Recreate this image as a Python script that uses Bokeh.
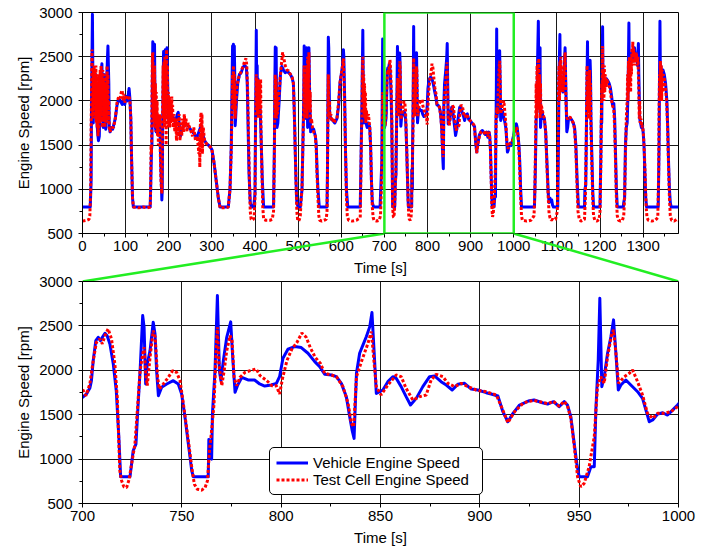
from bokeh.plotting import figure
from bokeh.models import Range1d, SingleIntervalTicker, Legend, LegendItem, BoxAnnotation
from bokeh.layouts import column
from bokeh.embed import file_html
from bokeh.resources import INLINE

FONT = "Liberation Sans"

# ---------------- data (time [s], engine speed [rpm]) ----------------
vehicle_before = [
    (0, 800), (18, 800), (20, 1100), (21, 2000), (23, 2980), (24, 2300), (25, 1750), (27, 2200), (29, 2100), (31, 2300),
    (33, 1800), (35, 1650), (37, 1550), (39, 1600), (41, 2100), (43, 2300), (45, 2420), (47, 1800), (48, 1700), (50, 2300),
    (52, 1750), (54, 1680), (56, 2200), (58, 2500), (59, 2620), (61, 2200), (62, 1700), (64, 1650), (66, 1700), (70, 1680),
    (72, 1720), (76, 1800), (80, 1950), (84, 2020), (88, 2000), (92, 1960), (95, 2000), (98, 1960), (101, 2050), (104, 2000),
    (107, 2100), (108, 2140), (110, 2020), (112, 1800), (114, 1300), (116, 900), (118, 800), (157, 800), (158, 1000), (160, 1450),
    (161, 1500), (162, 2200), (163, 2670), (164, 2300), (165, 1800), (166, 2400), (167, 2640), (168, 2100), (169, 1700), (171, 1650),
    (173, 1800), (175, 1700), (178, 1750), (180, 1600), (182, 1200), (184, 880), (185, 1000), (186, 1800), (188, 2560), (190, 2000),
    (192, 2580), (194, 2000), (196, 2600), (197, 2300), (199, 1800), (202, 1780), (205, 1800), (210, 1820), (215, 1760), (220, 1850),
    (222, 1870), (225, 1700), (227, 1600), (230, 1650), (235, 1730), (240, 1740), (245, 1720), (250, 1680), (255, 1650), (260, 1620),
    (265, 1580), (270, 1650), (275, 1720), (278, 1650), (282, 1560), (287, 1520), (292, 1500), (296, 1480), (300, 1450), (305, 1300),
    (310, 1100), (315, 900), (319, 800), (338, 800), (342, 1000), (345, 1500), (347, 2300), (348, 2620), (349, 2000), (350, 2640),
    (351, 2100), (352, 2620), (353, 2300), (354, 1720), (355, 1800), (357, 2000), (360, 2200), (364, 2300), (368, 2320), (372, 2380),
    (376, 2400), (380, 2380), (382, 2200), (384, 1700), (386, 1200), (389, 850), (392, 800), (397, 800), (400, 950), (401, 1600),
    (402, 2200), (403, 2800), (404, 2000), (405, 2400), (406, 1850), (407, 2250), (408, 1900), (410, 1950), (412, 1900), (414, 1600),
    (417, 1100), (420, 800), (443, 800), (445, 1500), (446, 2200), (447, 2610), (448, 2300), (449, 2600), (450, 2000), (451, 1700),
    (453, 1750), (456, 2000), (459, 2300), (462, 2390), (466, 2350), (470, 2320), (474, 2330), (478, 2320), (482, 2300), (486, 2260),
    (489, 2200), (491, 1900), (493, 1500), (495, 1100), (497, 850), (500, 800), (505, 800), (507, 900), (509, 1000), (511, 1500),
    (513, 2000), (514, 2620), (516, 2200), (518, 1800), (520, 2600), (522, 1700), (524, 2300), (525, 2600), (527, 2000), (529, 1650),
    (532, 1700), (536, 1680), (540, 1600), (542, 1500), (544, 1200), (546, 1000), (549, 800), (567, 800), (568, 1200), (569, 2000),
    (570, 2720), (571, 2600), (572, 2200), (573, 1850), (576, 1800), (580, 1780), (585, 1750), (590, 1800), (594, 1950), (597, 2200),
    (600, 2300), (603, 2400), (605, 2580), (606, 2500), (608, 2000), (610, 1400), (612, 1000), (615, 800), (644, 800), (646, 1400),
    (648, 2000), (650, 2800), (651, 2200), (652, 1750), (654, 1900), (656, 1780), (660, 1700), (663, 1750), (666, 1700), (668, 1500),
    (670, 1100), (672, 850), (675, 800), (690, 800), (692, 1050), (694, 1300), (695, 2000), (696, 2700), (697, 2100), (698, 1800),
]
vehicle_zoom = [
    (700, 1695), (702, 1733), (703.7, 1800), (704.5, 1883), (705.4, 2109), (706.7, 2334), (707.9, 2372), (709, 2334), (710, 2372), (711.3, 2417),
    (712.4, 2390), (713.8, 2297), (715.5, 2071), (717, 1770), (718.3, 1244), (719.2, 800), (723.9, 800), (724.7, 943), (725.5, 1094), (726.9, 1169),
    (728, 1620), (729, 1996), (730.3, 2616), (731, 2485), (731.8, 1846), (732.6, 2071), (734, 2222), (735.6, 2541), (736.5, 2410), (737.3, 1996),
    (738.2, 1714), (739.8, 1808), (742.4, 1846), (745.7, 1883), (748.2, 1846), (749.9, 1733), (751.6, 1470), (753.3, 1169), (755, 868), (755.8, 800),
    (763.3, 800), (763.6, 1220), (764.2, 1050), (765, 1000), (765.4, 1507), (766.7, 1996), (767.9, 2842), (768.9, 1996), (769.7, 1883), (770.9, 2109),
    (772.6, 2372), (774.6, 2545), (775.6, 2147), (776.8, 1752), (778, 1827), (780.2, 1921), (783.3, 1891), (786.6, 1891), (789.2, 1846), (791.7, 1823),
    (795, 1834), (797.6, 1853), (799.2, 1928), (800.9, 2135), (803.4, 2237), (806.8, 2267), (810.1, 2256), (813.5, 2192), (816.9, 2098), (819.4, 2041),
    (821.9, 1955), (825.3, 1947), (827.8, 1928), (830.3, 1853), (832.8, 1703), (834.5, 1477), (835.7, 1327), (836.7, 1233), (837.9, 1966), (839.5, 2192),
    (841.2, 2286), (842.9, 2380), (844.6, 2492), (845.7, 2650), (847.1, 2079), (847.9, 1740), (851.2, 1778), (853.7, 1872), (856.2, 1928), (857.9, 1910),
    (860.4, 1816), (862.9, 1703), (865.1, 1609), (868, 1684), (871.3, 1816), (874.7, 1928), (877.2, 1936), (880.5, 1872), (883.1, 1834), (886.1, 1778),
    (888.9, 1842), (892.3, 1853), (895.7, 1789), (899, 1778), (903.2, 1748), (905.7, 1733), (909.1, 1710), (911.6, 1534), (914.1, 1421), (916.7, 1515),
    (920, 1609), (924.4, 1654), (927.3, 1665), (931.5, 1635), (934.1, 1620), (937.1, 1647), (939.9, 1590), (942.5, 1647), (944.1, 1609), (945.8, 1477),
    (947.5, 1176), (948.8, 951), (950, 800), (954.2, 800), (955.9, 913), (957.6, 913), (958.4, 1552), (959.6, 2116), (960.4, 2812), (961.4, 1816),
    (962.6, 1928), (964.3, 2192), (966, 2380), (967.3, 2568), (968.5, 2192), (969.7, 1778), (971, 1834), (973.5, 1891), (976, 1834), (979.4, 1759),
    (981.9, 1684), (983.6, 1552), (985.3, 1421), (987, 1440), (989.5, 1507), (992, 1522), (994.5, 1496), (997, 1552), (999.5, 1609),
]
vehicle_after = [
    (1003, 1700), (1006, 1740), (1008, 1700), (1010, 1600), (1012, 1500), (1014, 1300), (1016, 1000), (1018, 800), (1048, 800), (1050, 1200),
    (1052, 1800), (1054, 1900), (1055, 2400), (1057, 2900), (1058, 2300), (1059, 2000), (1060, 2200), (1061, 2600), (1062, 1700), (1064, 1850),
    (1066, 1880), (1068, 1800), (1071, 1800), (1074, 1650), (1077, 1300), (1080, 950), (1082, 850), (1084, 900), (1086, 860), (1088, 880),
    (1090, 820), (1092, 800), (1102, 800), (1104, 1700), (1105, 2300), (1107, 2750), (1108, 2200), (1110, 2150), (1112, 2200), (1114, 2100),
    (1116, 2250), (1118, 2500), (1119, 2600), (1121, 2100), (1123, 1650), (1125, 1700), (1127, 1800), (1131, 1810), (1135, 1780), (1138, 1750),
    (1141, 1700), (1144, 1500), (1147, 1100), (1150, 800), (1164, 800), (1165, 1000), (1167, 1050), (1169, 1900), (1171, 2670), (1172, 2000),
    (1173, 2300), (1175, 1900), (1177, 2460), (1178, 2300), (1179, 1800), (1181, 1400), (1183, 1000), (1185, 800), (1200, 800), (1202, 1400),
    (1203, 1800), (1204, 1750), (1205, 2300), (1206, 2840), (1207, 2200), (1209, 2250), (1212, 2200), (1215, 2250), (1218, 2230), (1221, 2200),
    (1224, 2150), (1227, 2050), (1229, 1950), (1232, 1970), (1234, 1800), (1236, 1400), (1238, 1000), (1240, 800), (1254, 800), (1255, 850),
    (1257, 900), (1259, 1500), (1261, 1700), (1263, 1750), (1265, 2100), (1267, 2880), (1268, 2300), (1270, 2450), (1272, 2500), (1275, 2550),
    (1277, 2450), (1280, 2600), (1282, 2500), (1285, 2520), (1287, 2400), (1289, 2650), (1290, 2300), (1292, 1800), (1294, 1750), (1296, 1700),
    (1298, 1720), (1300, 1650), (1302, 1500), (1304, 1200), (1306, 900), (1308, 800), (1335, 800), (1337, 1500), (1338, 2300), (1339, 2900),
    (1340, 2300), (1341, 2400), (1343, 2200), (1346, 2350), (1349, 2300), (1352, 2200), (1355, 2000), (1357, 1700), (1359, 1300), (1361, 1000),
    (1363, 850), (1365, 800), (1382, 800),
]

cell_before = [
    (0, 640), (10, 650), (15, 660), (17, 700), (19, 1000), (20, 1700), (22, 2580), (23, 2200), (24, 1800), (25, 2350),
    (26, 1900), (27, 2400), (28, 1800), (29, 2350), (30, 2000), (31, 2400), (32, 1750), (33, 2200), (34, 1700), (35, 2300),
    (36, 1600), (37, 2100), (38, 1650), (39, 2300), (40, 1750), (41, 2350), (42, 1850), (43, 2400), (44, 1800), (45, 2300),
    (46, 1700), (47, 2350), (48, 1700), (49, 2250), (50, 1800), (51, 2300), (52, 1700), (53, 2200), (54, 1750), (55, 2300),
    (56, 1800), (57, 2400), (58, 1900), (59, 2300), (60, 1750), (61, 2000), (62, 1700), (64, 1650), (67, 1700), (72, 1700),
    (76, 1800), (80, 1980), (84, 2050), (87, 2030), (90, 2100), (92, 2120), (94, 2000), (96, 2080), (98, 1980), (100, 2050),
    (103, 2020), (106, 2060), (108, 2050), (110, 2000), (112, 1800), (114, 1300), (116, 900), (118, 800), (130, 790), (140, 800),
    (150, 790), (157, 800), (158, 1000), (159, 1500), (160, 1400), (161, 2000), (162, 2500), (163, 2550), (164, 1800), (165, 2300),
    (166, 1700), (167, 2400), (168, 1750), (169, 2200), (170, 1650), (171, 2100), (172, 1700), (173, 2000), (174, 1600), (175, 1850),
    (176, 1500), (177, 1800), (178, 1700), (179, 1850), (180, 1500), (182, 1100), (184, 950), (185, 1400), (186, 2000), (187, 2400),
    (188, 1800), (189, 2450), (190, 1700), (191, 2500), (192, 1800), (193, 2450), (194, 1500), (195, 2580), (196, 1900), (197, 2400),
    (198, 1700), (199, 2100), (200, 1800), (201, 2050), (202, 1700), (203, 1950), (204, 1750), (205, 2000), (206, 1800), (207, 2050),
    (208, 1750), (209, 1950), (210, 1700), (212, 1850), (214, 1650), (216, 1800), (218, 1550), (220, 1800), (222, 1600), (224, 1850),
    (226, 1550), (228, 1750), (230, 1600), (232, 1800), (234, 1650), (236, 1850), (238, 1700), (240, 1800), (242, 1650), (245, 1750),
    (248, 1700), (252, 1650), (255, 1600), (258, 1700), (262, 1550), (266, 1600), (268, 1500), (270, 1400), (271, 1600), (272, 1250),
    (273, 1700), (274, 1800), (275, 1870), (276, 1500), (277, 1850), (278, 1400), (280, 1700), (283, 1550), (287, 1520), (292, 1500),
    (296, 1480), (300, 1450), (305, 1300), (310, 1100), (315, 900), (319, 790), (330, 790), (338, 800), (342, 1000), (345, 1450),
    (347, 2000), (348, 2300), (349, 1900), (350, 2400), (351, 2000), (352, 2300), (353, 2100), (354, 1800), (356, 2000), (358, 2150),
    (361, 2250), (365, 2300), (369, 2350), (373, 2400), (376, 2450), (379, 2480), (381, 2400), (383, 2100), (385, 1600), (387, 1100),
    (389, 750), (391, 660), (393, 650), (396, 660), (398, 680), (400, 900), (401, 1500), (402, 2000), (403, 2300), (404, 1900),
    (405, 2250), (406, 1850), (407, 2200), (408, 1800), (409, 2250), (410, 1950), (411, 2200), (412, 1850), (413, 2250), (414, 1650),
    (416, 1200), (418, 800), (420, 660), (425, 650), (435, 650), (440, 660), (443, 750), (445, 1400), (446, 2000), (447, 2300),
    (448, 1800), (449, 2250), (450, 1800), (451, 2100), (452, 1850), (454, 1950), (456, 2100), (459, 2300), (462, 2450), (464, 2550),
    (466, 2500), (468, 2450), (470, 2400), (474, 2350), (478, 2340), (482, 2300), (486, 2270), (489, 2200), (491, 1900), (493, 1500),
    (495, 1100), (497, 750), (499, 650), (501, 640), (503, 660), (505, 700), (507, 880), (509, 1000), (511, 1500), (513, 1900),
    (514, 2400), (515, 1800), (516, 2200), (517, 1800), (518, 2300), (519, 1850), (520, 2400), (521, 1800), (522, 2500), (523, 1900),
    (524, 2400), (525, 2550), (526, 2200), (527, 1900), (528, 2100), (529, 1750), (531, 1800), (533, 1700), (536, 1650), (540, 1600),
    (542, 1450), (544, 1150), (546, 900), (548, 700), (550, 650), (555, 640), (560, 650), (565, 660), (567, 750), (568, 1100),
    (569, 1800), (570, 2300), (571, 1900), (572, 1800), (573, 2000), (574, 1800), (576, 1850), (578, 1780), (580, 1800), (583, 1750),
    (586, 1780), (590, 1800), (594, 2000), (597, 2200), (600, 2300), (603, 2400), (605, 2480), (606, 2300), (608, 1900), (610, 1400),
    (612, 900), (614, 700), (617, 650), (625, 640), (635, 650), (644, 680), (646, 1300), (648, 1900), (649, 2300), (650, 2500),
    (651, 2000), (652, 2300), (653, 1850), (654, 2200), (655, 1800), (656, 2100), (657, 1750), (658, 1900), (660, 1800), (663, 1850),
    (666, 1700), (668, 1500), (670, 1100), (672, 800), (674, 680), (676, 650), (682, 640), (688, 650), (691, 700), (693, 1000),
    (695, 1500), (696, 2100), (697, 1900), (698, 1800), (699, 1750),
]
cell_zoom = [
    (700, 1789), (701.7, 1714), (703.7, 1846), (705.4, 2109), (707, 2316), (708.7, 2353), (710, 2297), (711.3, 2390), (712.9, 2466), (714.6, 2353),
    (716.3, 2071), (717.5, 1695), (718.8, 868), (719.7, 755), (720.8, 688), (722.2, 680), (723.5, 774), (724.7, 943), (726.4, 1169), (727.6, 1545),
    (729, 1996), (730.3, 2184), (731.1, 2259), (731.8, 1958), (732.6, 1827), (734, 2147), (735.6, 2447), (736.6, 2372), (737.8, 1921), (738.7, 1789),
    (740.7, 1846), (743.2, 1921), (745.4, 1996), (747.4, 1977), (749.1, 1883), (750.8, 1620), (753.3, 1206), (755, 906), (756.3, 718), (757.8, 661),
    (760, 650), (761.7, 680), (762.9, 755), (763.9, 1094), (765, 1319), (766.2, 1620), (767.2, 2184), (767.9, 2485), (768.7, 2071), (770.1, 1827),
    (771.3, 1996), (772.6, 2222), (774.3, 2390), (775.3, 2334), (776.3, 1921), (777.6, 1827), (779.3, 1921), (781.8, 1977), (784.4, 1996), (787.4, 2015),
    (789.4, 1940), (792.8, 1883), (795.3, 1827), (797.5, 1827), (799.2, 1733), (800.8, 1921), (802.9, 2109), (805.4, 2240), (808, 2316), (810.4, 2420),
    (812.6, 2372), (814.6, 2259), (817.1, 2147), (819.7, 2080), (821.9, 1966), (825.3, 1947), (827.8, 1928), (831.1, 1816), (833.7, 1628), (835.3, 1402),
    (836.5, 1364), (837.9, 1928), (840.4, 2098), (843.7, 2304), (845.4, 2436), (846.8, 2079), (847.9, 1816), (850.3, 1722), (853.7, 1834), (857.9, 1947),
    (860.4, 1928), (862.9, 1797), (866.3, 1665), (869.6, 1703), (873, 1722), (875.5, 1891), (878, 1955), (881.4, 1928), (883.9, 1853), (887.3, 1816),
    (890.6, 1853), (894, 1816), (898.2, 1778), (903.2, 1759), (908.3, 1722), (911.6, 1552), (914.1, 1410), (917.5, 1534), (921.7, 1628), (924.4, 1650),
    (927.3, 1660), (931.5, 1640), (934.1, 1625), (937.1, 1650), (939.9, 1595), (942.5, 1650), (944.1, 1600), (945.8, 1460), (947.5, 1150), (949.2, 800),
    (950.8, 688), (952.5, 726), (955, 913), (957.6, 1251), (959.2, 1816), (960.9, 1928), (962.6, 1853), (964.3, 2154), (966.3, 2398), (967.3, 2455),
    (968.5, 2192), (969.8, 1853), (972.7, 1928), (975.2, 1966), (976.9, 2004), (979.4, 1872), (981.9, 1722), (984.4, 1515), (987, 1458), (989.5, 1515),
    (992.8, 1515), (996.2, 1534), (999.5, 1590),
]
cell_after = [
    (1003, 1650), (1006, 1700), (1008, 1680), (1010, 1600), (1012, 1450), (1014, 1200), (1016, 900), (1018, 700), (1020, 650), (1030, 640),
    (1040, 650), (1047, 700), (1049, 1000), (1051, 1700), (1052, 2200), (1053, 1800), (1054, 2400), (1055, 1900), (1056, 2450), (1057, 2000),
    (1058, 2480), (1059, 1900), (1060, 2300), (1061, 1800), (1062, 2200), (1063, 1850), (1064, 1950), (1066, 1900), (1068, 1850), (1071, 1800),
    (1074, 1650), (1077, 1250), (1080, 900), (1082, 720), (1084, 680), (1087, 650), (1090, 660), (1093, 650), (1097, 660), (1101, 750),
    (1103, 1600), (1104, 2200), (1105, 2400), (1106, 2000), (1107, 2450), (1108, 2100), (1109, 2500), (1110, 2150), (1112, 2400), (1114, 2100),
    (1116, 2300), (1118, 2450), (1119, 2550), (1121, 2000), (1123, 1800), (1126, 1800), (1130, 1820), (1135, 1780), (1138, 1750), (1141, 1680),
    (1144, 1450), (1147, 1000), (1149, 750), (1152, 660), (1156, 640), (1160, 650), (1164, 660), (1166, 900), (1168, 1500), (1169, 2000),
    (1170, 2400), (1171, 1900), (1172, 2300), (1173, 1800), (1174, 2200), (1175, 1800), (1176, 2350), (1177, 2000), (1178, 2200), (1179, 1700),
    (1181, 1300), (1183, 900), (1185, 700), (1188, 650), (1193, 640), (1198, 660), (1200, 750), (1202, 1300), (1203, 1800), (1204, 2200),
    (1205, 2000), (1206, 2620), (1207, 2100), (1208, 2350), (1209, 2000), (1210, 2400), (1211, 2100), (1212, 2300), (1214, 2150), (1216, 2250),
    (1218, 2200), (1221, 2180), (1224, 2100), (1227, 2000), (1229, 1950), (1232, 1900), (1234, 1700), (1236, 1300), (1238, 900), (1240, 700),
    (1243, 650), (1248, 640), (1252, 650), (1255, 700), (1257, 900), (1259, 1400), (1261, 1800), (1263, 2000), (1264, 2300), (1265, 2000),
    (1266, 2450), (1267, 2100), (1268, 2500), (1269, 2200), (1270, 2400), (1271, 2100), (1272, 2500), (1273, 2300), (1274, 2600), (1275, 2400),
    (1276, 2670), (1277, 2500), (1278, 2600), (1279, 2400), (1280, 2550), (1282, 2450), (1284, 2550), (1286, 2400), (1288, 2500), (1289, 2300),
    (1290, 2100), (1291, 1800), (1292, 2000), (1293, 1750), (1295, 1800), (1297, 1700), (1299, 1720), (1301, 1600), (1303, 1400), (1305, 1100),
    (1307, 800), (1309, 680), (1312, 650), (1320, 640), (1328, 650), (1334, 680), (1336, 1200), (1337, 1900), (1338, 2300), (1339, 2000),
    (1340, 2450), (1341, 2100), (1342, 2400), (1343, 2000), (1344, 2350), (1345, 2100), (1347, 2300), (1349, 2250), (1352, 2150), (1355, 1950),
    (1357, 1650), (1359, 1250), (1361, 900), (1363, 700), (1366, 650), (1372, 640), (1378, 660), (1382, 650),
]

series_labels = ["Vehicle Engine Speed", "Test Cell Engine Speed"]
full_time_range = (0, 1382)
zoom_time_range = (700, 1000)
speed_range = (500, 3000)
x_label = "Time [s]"
y_label = "Engine Speed [rpm]"

vehicle = vehicle_before + vehicle_zoom + vehicle_after
cell = cell_before + cell_zoom + cell_after
veh_t = [a for a, b in vehicle]
veh_rpm = [b for a, b in vehicle]
cell_t = [a for a, b in cell]
cell_rpm = [b for a, b in cell]

BLUE = "#0000ff"
RED = "#ff0000"
GREEN = "#22ee22"


def make_fig(xr, frame_h, b_top, b_bottom, x_interval, **kw):
    p = figure(frame_width=596, frame_height=frame_h,
               min_border_left=82, min_border_right=33,
               min_border_top=b_top, min_border_bottom=b_bottom,
               x_range=Range1d(*xr), y_range=Range1d(*speed_range),
               output_backend="svg", toolbar_location=None, **kw)
    p.xaxis.ticker = SingleIntervalTicker(interval=x_interval, num_minor_ticks=2)
    p.yaxis.ticker = SingleIntervalTicker(interval=500, num_minor_ticks=2)
    p.xaxis.axis_label = x_label
    p.yaxis.axis_label = y_label
    for ax in p.axis:
        ax.axis_label_text_font = FONT
        ax.axis_label_text_font_size = "15px"
        ax.axis_label_text_font_style = "normal"
        ax.axis_label_text_color = "black"
        ax.major_label_text_font = FONT
        ax.major_label_text_font_size = "15px"
        ax.major_label_text_color = "black"
        ax.axis_line_color = "black"
        ax.major_tick_line_color = "black"
        ax.minor_tick_line_color = "black"
        ax.major_tick_in = 0
        ax.major_tick_out = 4
        ax.minor_tick_in = 0
        ax.minor_tick_out = 3
    p.xaxis.major_label_standoff = 3
    p.xaxis.axis_label_standoff = 5
    p.yaxis.major_label_standoff = 6
    p.yaxis.axis_label_standoff = 4
    p.grid.grid_line_color = "#1a1a1a"
    p.grid.grid_line_width = 1
    p.grid.grid_line_alpha = 1
    p.outline_line_color = "black"
    p.outline_line_width = 1
    p.outline_line_alpha = 1
    p.background_fill_color = "white"
    return p


# ---------------- top: full cycle ----------------
p1 = make_fig(full_time_range, 221, 12, 48, 100)
p1.line(veh_t, veh_rpm, line_color=BLUE, line_width=3, line_join="round")
p1.line(cell_t, cell_rpm, line_color=RED, line_width=3, line_dash="3 2")
p1.add_layout(BoxAnnotation(left=zoom_time_range[0], right=zoom_time_range[1],
                            bottom=speed_range[0], top=speed_range[1],
                            fill_alpha=0, line_color=GREEN, line_width=2.5, line_alpha=1))

# ---------------- connector band (zoom lines) ----------------
pc = figure(frame_width=596, frame_height=48,
            min_border_left=82, min_border_right=33, min_border_top=0, min_border_bottom=0,
            x_range=p1.x_range, y_range=Range1d(0, 1),
            x_axis_location=None, y_axis_location=None,
            output_backend="svg", toolbar_location=None, margin=(-48, 0, 0, 0))
pc.grid.visible = False
pc.outline_line_color = None
pc.background_fill_alpha = 0
pc.border_fill_alpha = 0
pc.segment(x0=[zoom_time_range[0], zoom_time_range[1]], y0=[1, 1],
           x1=[full_time_range[0], full_time_range[1]], y1=[0, 0],
           line_color=GREEN, line_width=2.5)

# ---------------- bottom: zoom ----------------
p2 = make_fig(zoom_time_range, 222, 10, 49, 50, margin=(-10, 0, 0, 0))
p2.border_fill_alpha = 0
r1 = p2.line(veh_t, veh_rpm, line_color=BLUE, line_width=3, line_join="round")
r2 = p2.line(cell_t, cell_rpm, line_color=RED, line_width=3, line_dash="3 2")
legend = Legend(items=[LegendItem(label=series_labels[0], renderers=[r1]),
                       LegendItem(label=series_labels[1], renderers=[r2])],
                location=(187, 8), label_text_font=FONT, label_text_font_size="15px",
                label_text_color="black", glyph_width=32, glyph_height=17, label_height=17,
                label_width=163, label_standoff=5, spacing=0, padding=6, margin=0,
                border_line_color="black", border_line_width=1, border_line_alpha=1,
                background_fill_color="white", background_fill_alpha=1)
if "border_radius" in legend.properties():
    legend.border_radius = 5
p2.add_layout(legend)

layout = column(p1, pc, p2)
open("out.html", "w").write(file_html(layout, INLINE))
